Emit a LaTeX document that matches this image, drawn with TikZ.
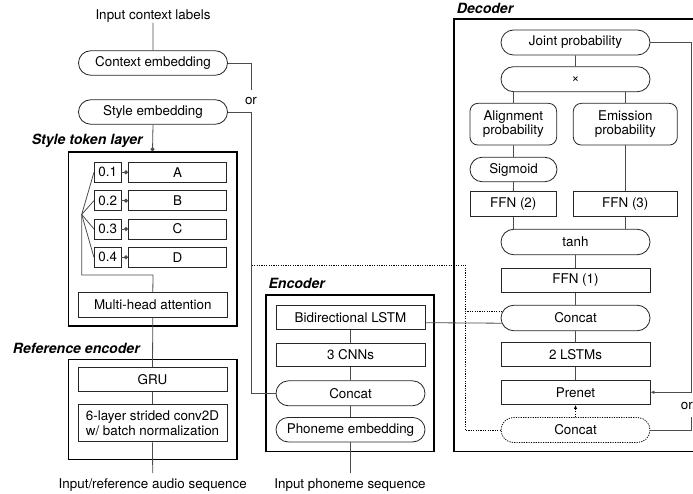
\documentclass[tikz,border=0pt]{standalone}
\usepackage{fontspec}
\setmainfont{TeX Gyre Heros}
\usetikzlibrary{shapes.misc,arrows.meta,calc}
\begin{document}
\begin{tikzpicture}[x=1pt,y=-1pt,
  font=\fontsize{13.4}{15}\selectfont,
  box/.style={draw=black!85, line width=0.8pt, minimum width=149pt, minimum height=24.5pt, inner sep=0pt, align=center},
  pill/.style={box, rounded rectangle},
  rbox/.style={box, rounded corners=8pt},
  frame/.style={draw=black, line width=1.6pt, inner sep=0pt},
  conn/.style={draw=black!70, line width=0.8pt},
  dotline/.style={dash pattern=on 1.2pt off 1.2pt},
  dconn/.style={draw=black, line width=0.8pt, dotline},
  title/.style={font=\fontsize{14.1}{16}\selectfont\bfseries\itshape, anchor=west, inner sep=0pt},
  lbl/.style={inner sep=0pt},
  dotto/.style={-{Circle[length=4pt]}},
  arr/.style={-{Latex[length=4pt,width=3.5pt]}},
]
\useasboundingbox (0,0) rectangle (693,494);

% ---------- frames ----------
\node[frame, minimum width=168.4pt, minimum height=174pt] (stl) at (152.5,239) {};
\node[frame, minimum width=168.4pt, minimum height=100pt] (ref) at (152.5,409.3) {};
\node[frame, minimum width=168pt, minimum height=156.5pt] (enc) at (350,373.2) {};
\node[frame, minimum width=266pt, minimum height=432pt] (dec) at (587,235.3) {};

\node[title] (stlt) at (31.7,141.3) {Style token layer};
\node[title] (reft) at (12.7,348.3) {Reference encoder};
\node[title] (enct) at (268.3,283.3) {Encoder};
\node[title] (dect) at (456.7,8.3) {Decoder};

% ---------- left column ----------
\node[lbl] (ctxlbl) at (153,16) {Input context labels};
\node[pill] (ctx) at (153,63) {Context embedding};
\node[pill] (sty) at (153,112) {Style embedding};
\node[lbl] (or1) at (251,100.5) {or};
\coordinate (ctxend) at (251,90);

\foreach \i/\v/\l/\y in {1/0.1/A/172.3, 2/0.2/B/200.7, 3/0.3/C/229, 4/0.4/D/257.3}{
  \node[box, minimum width=26.7pt, minimum height=20pt] (p\i) at (107.7,\y) {\v};
  \node[box, minimum width=98.3pt, minimum height=20pt] (t\i) at (177.5,\y) {\l};
}
\coordinate (fan) at (81.7,214.5);
\coordinate (mhc) at (153,275);
\node[box] (mha) at (152.8,305) {Multi-head attention};

\node[box] (gru) at (152.5,379.5) {GRU};
\node[box, minimum height=37.7pt] (conv) at (152.5,423) {6-layer strided conv2D\\w/ batch normalization};
\node[lbl] (audio) at (152.7,485) {Input/reference audio sequence};

% ---------- encoder ----------
\node[box] (bil) at (350.5,317.5) {Bidirectional LSTM};
\node[box, minimum height=23.5pt] (cnn) at (350.5,355) {3 CNNs};
\node[pill, minimum height=25pt] (econ) at (350.5,393.3) {Concat};
\node[pill] (phon) at (350.5,429.7) {Phoneme embedding};
\node[lbl] (phseq) at (350,485) {Input phoneme sequence};

% ---------- decoder ----------
\node[pill, minimum height=25pt] (joint) at (575.5,42.5) {Joint probability};
\node[pill, minimum height=25pt] (times) at (575.5,79.2) {×};
\node[rbox, minimum width=86.7pt, minimum height=41.7pt] (align) at (513.3,124.2) {Alignment\\[-1pt]probability};
\node[rbox, minimum width=104pt, minimum height=41.7pt] (emis) at (625.3,124.2) {Emission\\[-1pt]probability};
\node[pill, minimum width=87pt] (sig) at (513.5,169.5) {Sigmoid};
\node[box, minimum width=86.7pt, minimum height=25pt] (ffn2) at (513.3,204.2) {FFN (2)};
\node[box, minimum width=104pt, minimum height=25pt] (ffn3) at (625.3,204.2) {FFN (3)};
\node[pill, minimum height=25.5pt] (tanh) at (575.5,242) {tanh};
\node[box] (ffn1) at (575.5,280.5) {FFN (1)};
\node[pill, minimum height=25.5pt] (dcon) at (575.5,318) {Concat};
\node[box, minimum height=24pt] (lstm) at (575.5,354.7) {2 LSTMs};
\node[box] (pre) at (575.5,392.3) {Prenet};
\node[pill, draw=black, dotline, minimum height=25pt] (dotc) at (575.5,430) {Concat};
\node[lbl, anchor=east] (or2) at (693,406) {or};
\coordinate (fbx) at (691,42.5);
\coordinate (orend) at (691,416.5);

% ---------- connectors ----------
\draw[conn] (ctxlbl) -- (ctx);
\draw[conn] (ctx.east) -| (ctxend);
\draw[conn] (sty.east) -| (251,393.3) -- (econ.west);
\draw[conn, dotto] (sty.south) -- (stl.north);
\foreach \i in {1,...,4}{
  \draw[conn] (fan) -- (p\i.west);
  \draw[conn, dotto] (p\i.east) -- (t\i.west);
}
\draw[conn] (mha.north) -- (mhc) -| (fan);
\draw[conn] (mha.south) -- (gru.north);
\draw[conn] (gru) -- (conv);
\draw[conn] (conv.south) -- (152.7,473);

\draw[conn] (bil) -- (cnn);
\draw[conn] (cnn) -- (econ);
\draw[conn] (econ) -- (phon);
\draw[conn] (phon.south) -- (350.5,473);
\draw[conn] ($(bil.east)+(0,5.2)$) -- ($(dcon.west)+(0.9,5.2)$);

\draw[conn] (joint) -- (times);
\draw[conn] (times.south -| align.north) -- (align.north);
\draw[conn] (times.south -| emis.north) -- (emis.north);
\draw[conn] (align) -- (sig);
\draw[conn] (sig) -- (ffn2);
\draw[conn] (emis) -- (ffn3);
\draw[conn] (ffn2.south) -- (ffn2.south |- tanh.north);
\draw[conn] (ffn3.south) -- (ffn3.south |- tanh.north);
\draw[conn] (tanh) -- (ffn1);
\draw[conn] (ffn1) -- (dcon);
\draw[conn] (dcon) -- (lstm);
\draw[conn] (lstm) -- (pre);
\draw[conn, arr] (joint.east) -- (fbx) |- (pre.east);
\draw[conn] (dotc.east) -| (orend);
\draw[dconn, arr] (dotc.north) -- (pre.south);

\draw[dconn] (251.7,265) -- (465,265) -- (465,430) -- (dotc.west);
\draw[dconn] (465,311.7) -- ($(dcon.west)+(1.8,-6.3)$);
\end{tikzpicture}
\end{document}
